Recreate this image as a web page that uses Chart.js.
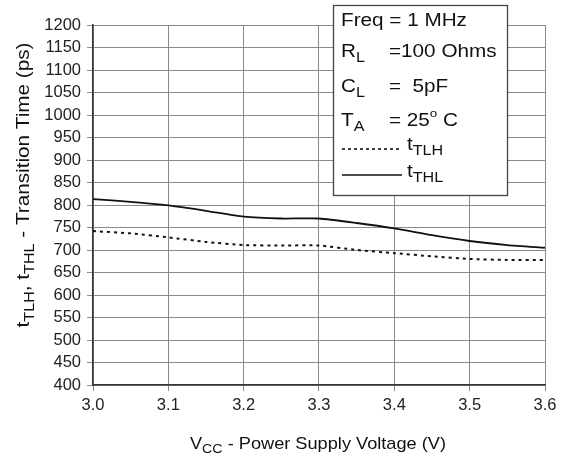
<!DOCTYPE html>
<html>
<head>
<meta charset="utf-8">
<script src="https://cdn.jsdelivr.net/npm/chart.js@4/dist/chart.umd.min.js"></script>
<style>
  html, body { margin: 0; padding: 0; background: #fff; }
</style>
</head>
<body>
<canvas id="c" width="569" height="461"></canvas>
<script>
// supply voltage (V)
const voltages = [3.0, 3.05, 3.1, 3.15, 3.2, 3.25, 3.3, 3.35, 3.4, 3.45, 3.5, 3.55, 3.6]
// transition times (ps)
const tTLH = [742, 737, 728, 718, 711, 710, 710, 700, 693, 686, 680, 678, 678]
const tTHL = [813, 807, 799, 787, 774, 770, 770, 760, 748, 733, 720, 711, 705]

const xTicks = [3.0, 3.1, 3.2, 3.3, 3.4, 3.5, 3.6]
const yMin = 400, yMax = 1200, yStep = 50

// test conditions: label, value
const conditions = [
    [[["Freq = 1 MHz", "n"]], null],
    [[["R", "n"], ["L", "sub"]], [["=100 Ohms", "n"]]],
    [[["C", "n"], ["L", "sub"]], [["=  5pF", "n"]]],
    [[["T", "n"], ["A", "sub"]], [["= 25", "n"], ["o", "sup"], [" C", "n"]]]
]

const FONT = "Liberation Sans, Arial, sans-serif"

function partSize(kind, size) {
    if (kind == "sub") return size * 0.78
    if (kind == "sup") return size * 0.65
    return size
}

function drawRich(ctx, parts, x, y, size, sx) {
    // draws text with sub/superscripts, stretched by sx
    sx = sx || 1
    ctx.save()
    ctx.translate(x, y)
    ctx.scale(sx, 1)
    let cx = 0
    for (const [txt, kind] of parts) {
        let dy = 0
        if (kind == "sub") dy = size * 0.32
        if (kind == "sup") dy = -size * 0.38
        ctx.font = partSize(kind, size) + "px " + FONT
        ctx.fillText(txt, cx, dy)
        cx += ctx.measureText(txt).width
    }
    ctx.restore()
    return cx * sx
}

function richWidth(ctx, parts, size, sx) {
    let w = 0
    for (const [txt, kind] of parts) {
        ctx.font = partSize(kind, size) + "px " + FONT
        w += ctx.measureText(txt).width
    }
    return w * (sx || 1)
}

const annotations = {
    id: "annotations",
    afterDraw(chart) {
        const ctx = chart.ctx
        ctx.save()
        ctx.fillStyle = "#111"
        ctx.textBaseline = "middle"
        ctx.textAlign = "left"

        // x axis title
        const xt = [["V", "n"], ["CC", "sub"], [" - Power Supply Voltage (V)", "n"]]
        const xw = richWidth(ctx, xt, 17, 1.07)
        drawRich(ctx, xt, 318 - xw / 2, 444, 17, 1.07)

        // y axis title, rotated
        const yt = [["t", "n"], ["TLH", "sub"], [", t", "n"], ["THL", "sub"], [" - Transition Time (ps)", "n"]]
        const yw = richWidth(ctx, yt, 18, 1.15)
        ctx.save()
        ctx.translate(24, 185)
        ctx.rotate(-Math.PI / 2)
        drawRich(ctx, yt, -yw / 2, 0, 18, 1.15)
        ctx.restore()

        // conditions box
        const bx = 333, by = 5, bw = 174, bh = 190
        ctx.fillStyle = "#fff"
        ctx.fillRect(bx, by, bw, bh)
        ctx.strokeStyle = "#444"
        ctx.lineWidth = 1.3
        ctx.strokeRect(bx + 0.5, by + 0.5, bw, bh)
        ctx.fillStyle = "#111"
        const rows = [21, 52, 87, 121]
        conditions.forEach(([lab, val], i) => {
            drawRich(ctx, lab, 341, rows[i], 18, 1.15)
            if (val) drawRich(ctx, val, 389, rows[i], 18, 1.15)
        })

        // series keys
        ctx.strokeStyle = "#111"
        ctx.lineWidth = 1.6
        ctx.setLineDash([3, 3])
        ctx.beginPath(); ctx.moveTo(342, 149); ctx.lineTo(402, 149); ctx.stroke()
        ctx.setLineDash([])
        ctx.beginPath(); ctx.moveTo(342, 175); ctx.lineTo(402, 175); ctx.stroke()
        drawRich(ctx, [["t", "n"], ["TLH", "sub"]], 407, 145, 18, 1.15)
        drawRich(ctx, [["t", "n"], ["THL", "sub"]], 407, 172, 18, 1.15)
        ctx.restore()
    }
}

const ctx = document.getElementById("c").getContext("2d")
const chart = new Chart(ctx, {
    type: "line",
    data: {
        datasets: [
            {
                label: "tTLH",
                data: voltages.map((v, i) => ({x: v, y: tTLH[i]})),
                borderColor: "#111",
                borderWidth: 2,
                borderDash: [3, 4],
                pointRadius: 0,
                tension: 0.2
            },
            {
                label: "tTHL",
                data: voltages.map((v, i) => ({x: v, y: tTHL[i]})),
                borderColor: "#111",
                borderWidth: 1.8,
                pointRadius: 0,
                tension: 0.2
            }
        ]
    },
    options: {
        responsive: false,
        animation: false,
        devicePixelRatio: 1,
        layout: { padding: { left: 0, top: 25, right: 24, bottom: 0 } },
        plugins: { legend: { display: false }, tooltip: { enabled: false } },
        scales: {
            x: {
                type: "linear",
                min: 3.0, max: 3.6,
                afterBuildTicks: s => { s.ticks = xTicks.map(v => ({value: v})) },
                afterFit: s => { s.height = 76 },
                ticks: {
                    color: "#222",
                    font: { family: FONT, size: 16.5 },
                    padding: 5,
                    autoSkip: false,
                    maxRotation: 0,
                    callback: v => v.toFixed(1)
                },
                grid: { color: "#8a8a8a", lineWidth: 1, tickLength: 6 },
                border: { color: "#333", width: 1.5 }
            },
            y: {
                min: yMin, max: yMax,
                ticks: {
                    stepSize: yStep,
                    color: "#222",
                    font: { family: FONT, size: 16.5 },
                    padding: 6,
                    autoSkip: false,
                    callback: v => String(v)
                },
                afterFit: s => { s.width = 93 },
                grid: { color: "#8a8a8a", lineWidth: 1, tickLength: 6 },
                border: { color: "#333", width: 1.5 }
            }
        }
    },
    plugins: [annotations]
})
</script>
</body>
</html>
